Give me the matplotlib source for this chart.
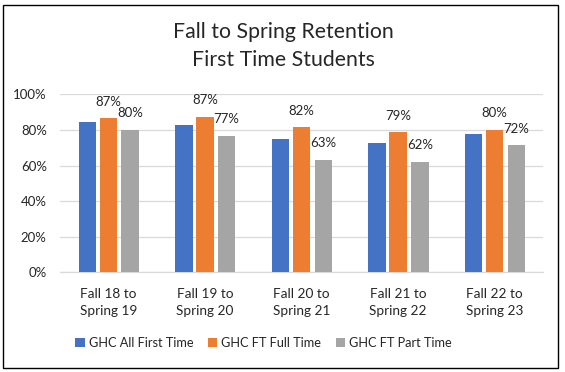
import matplotlib
matplotlib.use('Agg')
import matplotlib.pyplot as plt
from matplotlib.patches import Rectangle
from matplotlib.ticker import FuncFormatter
import numpy as np

# data
categories = ['Fall 18 to\nSpring 19', 'Fall 19 to\nSpring 20', 'Fall 20 to\nSpring 21',
              'Fall 21 to\nSpring 22', 'Fall 22 to\nSpring 23']
all_first_time = [84.5, 82.8, 74.9, 72.7, 77.7]
ft_full_time = [86.5, 87.3, 81.6, 78.8, 80.0]
ft_part_time = [80.0, 76.6, 63.1, 62.0, 71.5]
full_time_labels = ['87%', '87%', '82%', '79%', '80%']
part_time_labels = ['80%', '77%', '63%', '62%', '72%']

plt.rcParams['font.family'] = ['Lato', 'DejaVu Sans']

W, H = 565, 372
fig = plt.figure(figsize=(W / 100, H / 100), dpi=100)
ax = fig.add_axes([60 / W, 1 - 272.3 / H, (543 - 60) / W, (272.3 - 94.3) / H])

x = np.arange(len(categories))
bw = 0.18
ax.bar(x - 0.218, all_first_time, bw, color='#4472C4', label='GHC All First Time', zorder=3)
b2 = ax.bar(x, ft_full_time, bw, color='#ED7D31', label='GHC FT Full Time', zorder=3)
b3 = ax.bar(x + 0.225, ft_part_time, bw, color='#A5A5A5', label='GHC FT Part Time', zorder=3)

# data labels only on the full time / part time series
for bars, labels in [(b2, full_time_labels), (b3, part_time_labels)]:
    for rect, lab in zip(bars, labels):
        ax.annotate(lab, (rect.get_x() + rect.get_width() / 2, rect.get_height()),
                    xytext=(0, 16.5), textcoords='offset pixels',
                    ha='center', va='center', fontsize=9.5, color='#262626')

ax.set_xlim(-0.5, len(categories) - 0.5)
ax.set_ylim(0, 100)
ax.set_yticks(range(0, 101, 20))
ax.yaxis.set_major_formatter(FuncFormatter(lambda v, p: f'{v:.0f}%'))
ax.set_xticks(x)
ax.set_xticklabels(categories, linespacing=1.5)
ax.tick_params(axis='y', length=0, pad=9.5, labelsize=9.5, labelcolor='#262626')
ax.tick_params(axis='x', length=0, pad=11, labelsize=9.8, labelcolor='#262626')
ax.grid(axis='y', color='#D9D9D9', linewidth=0.9, zorder=0)
for s in ['top', 'right', 'left']:
    ax.spines[s].set_visible(False)
ax.spines['bottom'].set_color('#D9D9D9')
ax.spines['bottom'].set_linewidth(0.9)

fig.text(283 / W, 1 - 46.5 / H, 'Fall to Spring Retention\nFirst Time Students',
         ha='center', va='center', fontsize=15.3, linespacing=1.5, color='#262626')

fig.legend(loc='center', bbox_to_anchor=(263.5 / W, 1 - 343 / H), ncol=3, frameon=False,
           fontsize=9.2, handlelength=0.75, handleheight=0.75, handletextpad=0.3,
           columnspacing=1.15, labelcolor='#262626')

# chart border like the Excel chart area
fig.patches.append(Rectangle((2.5 / W, 1 - 367.5 / H), (558 - 2.5) / W, (367.5 - 4.5) / H,
                             transform=fig.transFigure, fill=False, edgecolor='black',
                             linewidth=1.0))

fig.savefig('out.png', dpi=100)
